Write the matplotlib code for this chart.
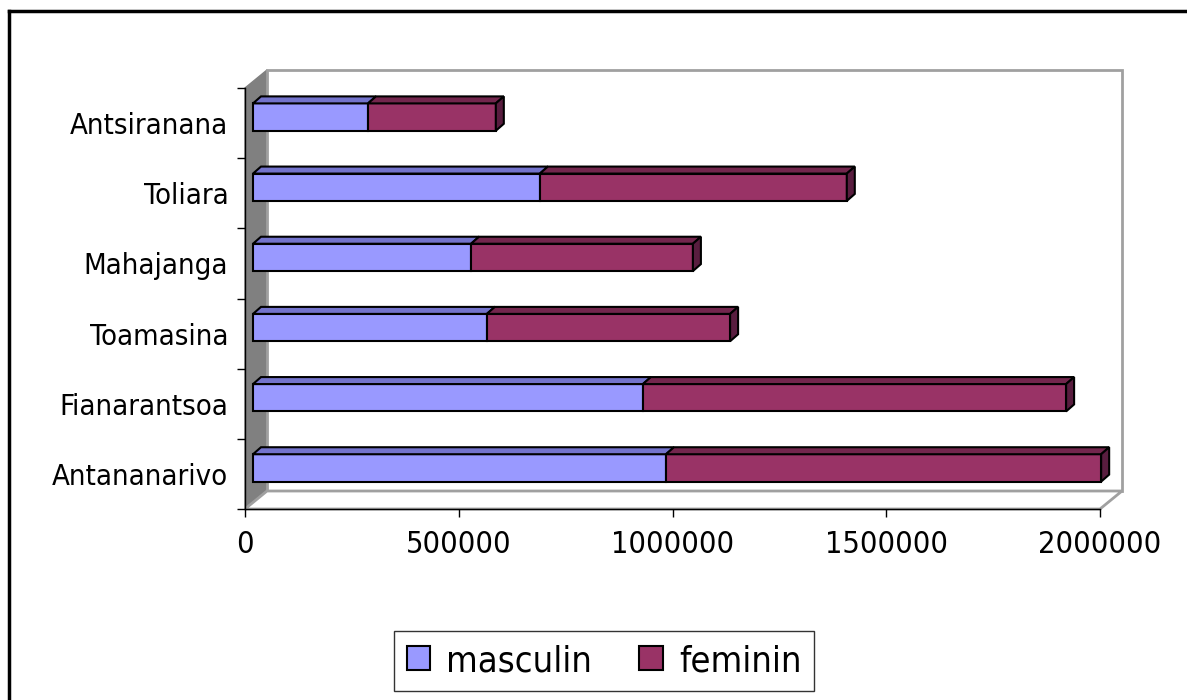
import numpy as np
import matplotlib
matplotlib.use('Agg')
import matplotlib.pyplot as plt
from matplotlib.patches import Polygon
from matplotlib.lines import Line2D

plt.rcParams['font.family'] = ['DejaVu Sans']
plt.rcParams['font.stretch'] = 'condensed'

# donnees (de bas en haut)
provinces = ['Antananarivo', 'Fianarantsoa', 'Toamasina', 'Mahajanga', 'Toliara', 'Antsiranana']
masculin = [966000, 912000, 547000, 510000, 671000, 269000]
feminin = [1018000, 990000, 569000, 519000, 718000, 299000]
xticks = [0, 500000, 1000000, 1500000, 2000000]

c_masc = '#9999ff'
c_masc_top = '#7373cc'
c_fem = '#993366'
c_fem_top = '#73264d'
c_fem_side = '#591d3f'

W, H = 1187, 700
fig = plt.figure(figsize=(W / 100, H / 100), dpi=100)
ax = fig.add_axes([245 / W, (H - 509) / H, 855 / W, 421 / H])
xmax = xticks[-1]
n = len(provinces)
ax.set_xlim(0, xmax)
ax.set_ylim(-0.5, n - 0.5)
ax.patch.set_visible(False)

# pixels -> unites de donnees (pour l'effet 3D)
sx = xmax / 855
sy = n / 421
def off(px, py):
    return px * sx, py * sy

wx, wy = off(22, 18)
y0, y1 = -0.5, n - 0.5

# murs
ax.add_patch(Polygon([(0, y0), (0, y1), (wx, y1 + wy), (wx, y0 + wy)],
                     fc='#808080', ec='#808080', lw=1, zorder=0, clip_on=False))
ax.add_patch(Polygon([(wx, y0 + wy), (wx, y1 + wy), (xmax + wx, y1 + wy), (xmax + wx, y0 + wy)],
                     fc='white', ec='#a0a0a0', lw=2, zorder=0, clip_on=False))
ax.add_patch(Polygon([(0, y0), (wx, y0 + wy), (xmax + wx, y0 + wy), (xmax, y0)],
                     fc='white', ec='#a0a0a0', lw=2, zorder=0.5, clip_on=False))

# barres
fx, fy = off(8, 6)
dx, dy = off(8, 7)
bh = 0.39
ypos = np.arange(n) + fy
masc = np.array(masculin)
fem = np.array(feminin)

ax.barh(ypos, masc, left=fx, height=bh, color=c_masc, edgecolor='black', lw=1.5,
        label='masculin', zorder=3, clip_on=False)
ax.barh(ypos, fem, left=fx + masc, height=bh, color=c_fem, edgecolor='black', lw=1.5,
        label='feminin', zorder=3, clip_on=False)

def top_face(xa, xb, y, color):
    yt = y + bh / 2
    ax.add_patch(Polygon([(xa, yt), (xb, yt), (xb + dx, yt + dy), (xa + dx, yt + dy)],
                         fc=color, ec='black', lw=1.5, zorder=3, clip_on=False))

for i in range(n):
    a = fx
    b = fx + masc[i]
    c = b + fem[i]
    top_face(a, b, ypos[i], c_masc_top)
    top_face(b, c, ypos[i], c_fem_top)
    yb, yt = ypos[i] - bh / 2, ypos[i] + bh / 2
    ax.add_patch(Polygon([(c, yb), (c, yt), (c + dx, yt + dy), (c + dx, yb + dy)],
                         fc=c_fem_side, ec='black', lw=1.5, zorder=3, clip_on=False))

# axes
ax.set_yticks(np.arange(n + 1) - 0.5)
ax.set_yticklabels([])
ax.set_yticks(np.arange(n), minor=True)
ax.set_yticklabels(provinces, minor=True, fontsize=21)
ax.tick_params(axis='y', which='major', direction='out', length=6, width=1)
ax.tick_params(axis='y', which='minor', length=0, pad=12)
ax.set_xticks(xticks)
ax.set_xticklabels([str(v) for v in xticks], fontsize=22)
ax.tick_params(axis='x', direction='out', length=6, width=1, pad=9)
for s in ['top', 'right']:
    ax.spines[s].set_visible(False)
for s in ['left', 'bottom']:
    ax.spines[s].set_color('black')
    ax.spines[s].set_linewidth(1)

leg = ax.legend(loc='center', bbox_to_anchor=(604 / W, 39 / H), bbox_transform=fig.transFigure,
                ncol=2, fontsize=26, frameon=True, fancybox=False, edgecolor='black',
                handlelength=0.65, handleheight=0.65, borderpad=0.35, columnspacing=1.3,
                handletextpad=0.45)
leg.get_frame().set_linewidth(1)

# cadre
fig.add_artist(Line2D([9 / W, 1], [1 - 11 / H, 1 - 11 / H], color='black', lw=2.5, transform=fig.transFigure))
fig.add_artist(Line2D([9 / W, 9 / W], [0, 1 - 11 / H], color='black', lw=2.5, transform=fig.transFigure))

fig.savefig('out.png', dpi=100)
